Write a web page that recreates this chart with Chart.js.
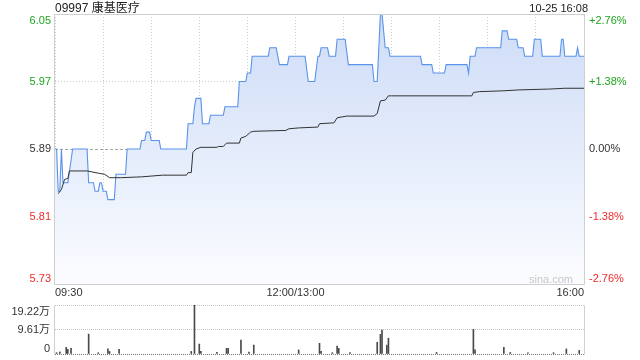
<!DOCTYPE html>
<html>
<head>
<meta charset="utf-8">
<script src="https://cdn.jsdelivr.net/npm/chart.js@4.4.0/dist/chart.umd.min.js"></script>
<style>
  body { margin: 0; background: #fff; }
  .chart__box { position: absolute; left: 0; }
  #chart__price { top: 0; }
  #chart__volume { top: 300px; }
</style>
</head>
<body>
<canvas id="chart__price" class="chart__box" width="640" height="300"></canvas>
<canvas id="chart__volume" class="chart__box" width="640" height="60"></canvas>
<script>
"use strict";

// ** Data (minutes since 09:30, lunch break removed)
const stockTitle = "09997 康基医疗";
const stockTime = "10-25 16:08";
const prevClose = 5.89;

const priceMinutes = [0, 1, 2, 3, 4, 5, 8, 11, 20, 21, 24, 25, 27, 28, 29, 30, 32, 33, 37, 38, 44, 45, 53, 54, 56, 57, 59, 60, 65, 66, 82, 83, 86, 87, 88, 91, 92, 96, 97, 105, 106, 114, 115, 119, 120, 122, 123, 133, 134, 138, 140, 145, 146, 156, 158, 162, 164, 165, 166, 170, 171, 175, 176, 181, 183, 198, 199, 201, 203, 204, 206, 208, 209, 228, 229, 235, 236, 243, 244, 257, 258, 259, 262, 263, 278, 279, 282, 283, 288, 289, 292, 293, 298, 299, 303, 304, 315, 316, 317, 318, 325, 326, 327, 330];
const priceValues = [5.89, 5.89, 5.84, 5.84, 5.89, 5.85, 5.85, 5.89, 5.89, 5.85, 5.85, 5.84, 5.84, 5.85, 5.85, 5.84, 5.84, 5.83, 5.83, 5.86, 5.86, 5.89, 5.89, 5.9, 5.9, 5.91, 5.91, 5.9, 5.9, 5.89, 5.89, 5.92, 5.92, 5.94, 5.95, 5.95, 5.92, 5.92, 5.93, 5.93, 5.94, 5.94, 5.97, 5.97, 5.98, 5.98, 6.0, 6.0, 6.01, 6.01, 5.99, 5.99, 6.0, 6.0, 5.97, 5.97, 6.0, 6.0, 6.01, 6.01, 6.0, 6.0, 6.02, 6.02, 5.99, 5.99, 5.97, 5.97, 6.05, 6.05, 6.01, 6.01, 6.0, 6.0, 5.99, 5.99, 5.98, 5.98, 5.99, 5.99, 5.98, 6.0, 6.0, 6.01, 6.01, 6.03, 6.03, 6.02, 6.02, 6.01, 6.01, 6.0, 6.0, 6.02, 6.02, 6.0, 6.0, 6.02, 6.02, 6.0, 6.0, 6.01, 6.0, 6.0];

const avgMinutes = [2, 4, 6, 8, 9, 20, 28, 31, 34, 41, 54, 67, 82, 83, 85, 86, 88, 91, 101, 102, 105, 107, 115, 116, 119, 122, 124, 144, 146, 152, 164, 165, 174, 176, 182, 199, 201, 203, 206, 208, 210, 260, 261, 265, 280, 289, 307, 308, 318, 330];
const avgValues = [5.837, 5.842, 5.854, 5.855, 5.864, 5.864, 5.861, 5.86, 5.856, 5.856, 5.857, 5.859, 5.859, 5.862, 5.862, 5.886, 5.89, 5.892, 5.892, 5.893, 5.893, 5.897, 5.897, 5.903, 5.905, 5.91, 5.911, 5.912, 5.914, 5.915, 5.916, 5.92, 5.921, 5.927, 5.929, 5.929, 5.932, 5.947, 5.948, 5.953, 5.953, 5.953, 5.957, 5.958, 5.959, 5.96, 5.961, 5.961, 5.962, 5.962];

// volume in 万 shares
const volMinutes = [1, 3, 7, 8, 10, 21, 27, 33, 34, 40, 85, 87, 90, 91, 101, 107, 108, 116, 121, 124, 152, 165, 166, 173, 176, 177, 184, 201, 203, 204, 207, 208, 238, 261, 262, 280, 284, 295, 311, 319, 327];
const volValues = [0.5, 0.8, 2.6, 1.8, 2.2, 7.8, 0.5, 2.0, 1.0, 1.8, 1.0, 19.22, 3.9, 1.0, 0.7, 2.2, 2.2, 5.5, 0.8, 3.5, 1.6, 4.2, 1.0, 0.5, 3.1, 2.2, 0.6, 4.6, 7.7, 9.4, 3.5, 6.2, 0.6, 9.7, 1.6, 2.6, 0.6, 0.5, 0.5, 2.0, 1.4];

// ** Ticks
const gridMinutes = [0, 30, 60, 90, 120, 150, 180, 210, 240, 270, 300, 330];
const timeTickValues = [0, 150, 330];
const timeTickLabels = ["09:30", "12:00/13:00", "16:00"];
const priceTicks = [5.73, 5.81, 5.89, 5.97, 6.05];
const pctTicks = [-2.76, -1.38, 0, 1.38, 2.76];
const pctLabels = ["-2.76%", "-1.38%", "0.00%", "+1.38%", "+2.76%"];
const volTicks = [0, 9.61, 19.22];
const volLabels = ["0", "9.61万", "19.22万"];

const FONT = "Arial, 'Liberation Sans', 'Noto Sans CJK SC', sans-serif";
const GREEN = "#1ea51e";
const RED = "#f02a2a";
const DARK = "#333";

function signColor(diff) {
  if (diff > 0) return GREEN;
  if (diff < 0) return RED;
  return DARK;
}

// ** Plugins
const axisLabels = {
  id: "axisLabels",
  afterDraw(chart, args, opts) {
    const { ctx } = chart;
    ctx.save();
    ctx.font = `11px ${FONT}`;
    opts.sides.forEach((side) => {
      const scale = chart.scales[side.scaleId];
      side.ticks.forEach((v, i) => {
        const y = scale.getPixelForValue(v);
        ctx.textBaseline = v === scale.max ? "top" : v === scale.min ? "bottom" : "middle";
        ctx.textAlign = side.align;
        ctx.fillStyle = side.colors[i];
        ctx.fillText(side.labels[i], side.x, y + (v === scale.max ? 1 : 0));
      });
    });
    ctx.restore();
  },
};

const frame = {
  id: "frame",
  afterDatasetsDraw(chart, args, opts) {
    const { ctx, chartArea } = chart;
    ctx.save();
    ctx.strokeStyle = opts.color;
    ctx.lineWidth = 1;
    ctx.beginPath();
    const l = chartArea.left - 0.5;
    const r = chartArea.right + 0.5;
    const t = chartArea.top + 0.5;
    const b = chartArea.bottom + 0.5;
    if (opts.top) { ctx.moveTo(l, t); ctx.lineTo(r, t); }
    if (opts.bottom) { ctx.moveTo(l, b); ctx.lineTo(r, b); }
    ctx.moveTo(l, t); ctx.lineTo(l, b);
    ctx.moveTo(r, t); ctx.lineTo(r, b);
    ctx.stroke();
    ctx.restore();
  },
};

const captions = {
  id: "captions",
  afterDraw(chart) {
    const { ctx, chartArea } = chart;
    ctx.save();
    ctx.textBaseline = "alphabetic";
    ctx.fillStyle = "#222";
    ctx.font = `12px ${FONT}`;
    ctx.textAlign = "left";
    ctx.fillText(stockTitle, chartArea.left, 12);
    ctx.font = `11px ${FONT}`;
    ctx.textAlign = "right";
    ctx.fillText(stockTime, chartArea.right + 4, 12);
    ctx.fillStyle = "#c8c8c8";
    ctx.fillText("sina.com", chartArea.right - 11, chartArea.bottom - 1);
    ctx.restore();
  },
};

function areaFill(context) {
  const { ctx, chartArea } = context.chart;
  if (!chartArea) return "rgba(208, 223, 248, 0.6)";
  const g = ctx.createLinearGradient(0, chartArea.top, 0, chartArea.bottom);
  g.addColorStop(0, "#cddcf7");
  g.addColorStop(1, "#fbfcff");
  return g;
}

const isPrev = (ctx) => ctx.tick && Math.abs(ctx.tick.value - prevClose) < 1e-6;

// ** Price chart
new Chart(document.getElementById("chart__price"), {
  type: "line",
  data: {
    datasets: [
      {
        label: "价格",
        data: priceMinutes.map((m, i) => ({ x: m, y: priceValues[i] })),
        borderColor: "#5a93ea",
        borderWidth: 1.1,
        backgroundColor: areaFill,
        fill: "start",
        pointRadius: 0,
        tension: 0,
        order: 2,
      },
      {
        label: "均价",
        data: avgMinutes.map((m, i) => ({ x: m, y: avgValues[i] })),
        borderColor: "#333",
        borderWidth: 1,
        fill: false,
        pointRadius: 0,
        tension: 0,
        order: 1,
      },
    ],
  },
  options: {
    responsive: false,
    animation: false,
    events: [],
    layout: { padding: { top: 14, left: 0, right: 0, bottom: 0 } },
    plugins: {
      legend: { display: false },
      tooltip: { enabled: false },
      axisLabels: {
        sides: [
          {
            scaleId: "y",
            ticks: priceTicks,
            labels: priceTicks.map((v) => v.toFixed(2)),
            colors: priceTicks.map((v) => signColor(Math.round((v - prevClose) * 100))),
            x: 51,
            align: "right",
          },
          {
            scaleId: "yPct",
            ticks: pctTicks,
            labels: pctLabels,
            colors: pctTicks.map((v) => signColor(v)),
            x: 589,
            align: "left",
          },
        ],
      },
      frame: { color: "#cfcfcf", top: true, bottom: true },
    },
    scales: {
      x: {
        type: "linear",
        min: 0,
        max: 330,
        offset: false,
        afterBuildTicks: (s) => { s.ticks = gridMinutes.map((v) => ({ value: v })); },
        afterFit: (s) => { s.height = 16; },
        ticks: {
          autoSkip: false,
          maxRotation: 0,
          align: "inner",
          padding: 2,
          color: DARK,
          font: { size: 11, family: FONT },
          callback: (v) => {
            const i = timeTickValues.indexOf(v);
            return i < 0 ? "" : timeTickLabels[i];
          },
        },
        grid: { color: "#cccccc", drawTicks: false, offset: false },
        border: { display: false, dash: [1, 2] },
      },
      y: {
        position: "left",
        min: priceTicks[0],
        max: priceTicks[priceTicks.length - 1],
        afterBuildTicks: (s) => { s.ticks = priceTicks.map((v) => ({ value: v })); },
        afterFit: (s) => { s.width = 55; },
        ticks: { display: false },
        grid: { color: (ctx) => (isPrev(ctx) ? "#a8a8a8" : "#cccccc"), drawTicks: false },
        border: { display: false, dash: (ctx) => (isPrev(ctx) ? [3, 2] : [1, 2]) },
      },
      yPct: {
        position: "right",
        min: pctTicks[0],
        max: pctTicks[pctTicks.length - 1],
        afterFit: (s) => { s.width = 56; },
        ticks: { display: false },
        grid: { display: false },
        border: { display: false },
      },
    },
  },
  plugins: [axisLabels, frame, captions],
});

// ** Volume chart
new Chart(document.getElementById("chart__volume"), {
  type: "bar",
  data: {
    datasets: [
      {
        label: "成交量",
        data: volMinutes.map((m, i) => ({ x: m, y: volValues[i] })),
        backgroundColor: "#4a4a4a",
        barThickness: 1,
        borderWidth: 0,
      },
    ],
  },
  options: {
    responsive: false,
    animation: false,
    events: [],
    layout: { padding: { top: 5, left: 0, right: 0, bottom: 6 } },
    plugins: {
      legend: { display: false },
      tooltip: { enabled: false },
      axisLabels: {
        sides: [
          {
            scaleId: "y",
            ticks: volTicks,
            labels: volLabels,
            colors: volTicks.map(() => DARK),
            x: 50,
            align: "right",
          },
        ],
      },
      frame: { color: "#cfcfcf", top: false, bottom: false },
    },
    scales: {
      x: {
        type: "linear",
        min: 0,
        max: 330,
        offset: false,
        display: false,
        grid: { offset: false },
      },
      y: {
        position: "left",
        min: volTicks[0],
        max: volTicks[volTicks.length - 1],
        afterBuildTicks: (s) => { s.ticks = volTicks.map((v) => ({ value: v })); },
        afterFit: (s) => { s.width = 55; },
        ticks: { display: false },
        grid: { color: (ctx) => (ctx.tick && ctx.tick.value === 0 ? "#777777" : "#c4c4c4"), drawTicks: false },
        border: { display: false, dash: [1, 1] },
      },
      yRight: {
        position: "right",
        min: 0,
        max: 1,
        afterFit: (s) => { s.width = 56; },
        ticks: { display: false },
        grid: { display: false },
        border: { display: false },
      },
    },
  },
  plugins: [axisLabels, frame],
});
</script>
</body>
</html>
